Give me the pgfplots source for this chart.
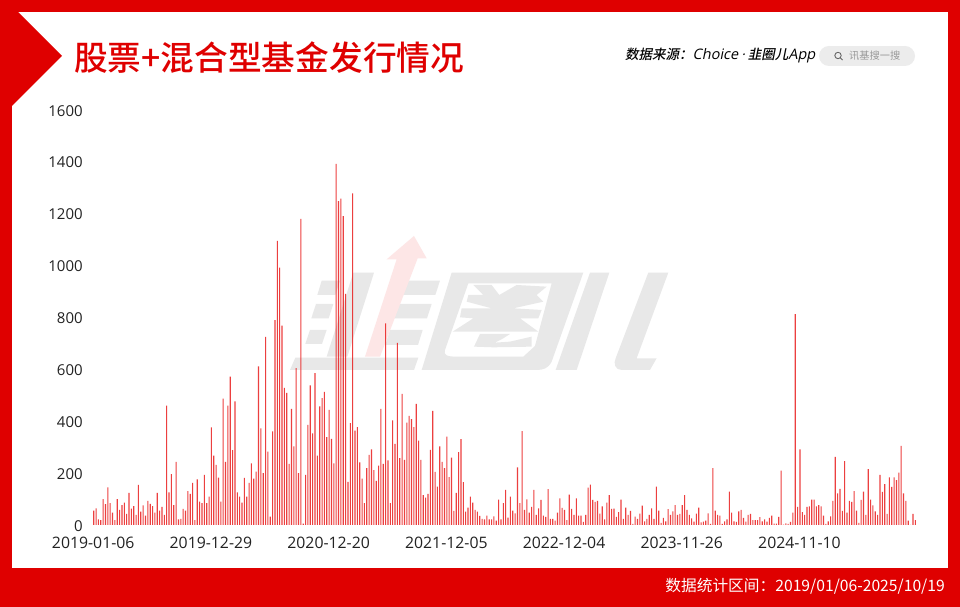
\documentclass[border=0pt]{standalone}
\usepackage{pgfplots}
\usepackage{pgfplotstable}
\usepackage{fontspec}
\pgfplotsset{compat=1.18}
\setmainfont{Open Sans}
\newfontfamily\cjk{Noto Sans CJK SC}
\newfontfamily\cjkmed{Noto Sans CJK SC Medium}
\newfontfamily\cjkit[FakeSlant=0.2]{Noto Sans CJK SC Medium}
\newfontfamily\latit[FakeSlant=0.2]{Open Sans}
\definecolor{frame}{HTML}{DF0000}
\definecolor{wm}{HTML}{E8E8E8}
\definecolor{wmp}{HTML}{FDE6E6}
\definecolor{barc}{HTML}{E81010}
\definecolor{tickc}{HTML}{222222}
\pgfplotstableread{
v
55 
64
22
19
100
80
145
84
48
19
100
58
77
86
43
124
63
73
39
155
52
76
36
93
81
73
48
124
55
70
39
460
126
196
77
243
22
24
62
55
131
120
162
19
176
90
84
193
84
109
376
267
232
183
90
487
243
460
572
289
477
126
109
86
182
109
162
238
179
206
612
373
200
725
283
32
361
790
1095
992
769
529
509
236
448
303
605
200
1180
5
193
386
538
353
586
267
457
489
513
339
444
332
238
1392
1249
1258
1191
891
166
393
1279
364
377
241
179
84
219
270
292
212
170
229
448
236
777
249
84
403
313
702
258
506
251
395
421
408
377
467
325
251
115
106
120
290
440
205
148
303
243
219
341
185
260
54
124
281
331
165
52
67
109
86
58
52
35
24
22
36
22
22
33
17
98
22
84
135
28
109
55
45
222
84
362
58
99
48
70
135
39
64
97
36
31
138
24
24
17
48
103
66
58
19
117
62
39
103
36
36
12
39
144
156
97
89
93
44
72
22
86
115
62
63
31
50
98
24
67
39
54
4
32
24
44
75
14
24
39
64
24
148
55
8
27
14
61
39
53
77
39
43
77
115
58
39
26
13
44
67
10
13
17
45
4
219
55
39
36
4
14
22
129
48
14
12
53
58
27
13
39
43
19
19
19
30
14
22
13
27
36
5
5
31
210
1
6
4
12
48
813
70
292
50
39
70
72
98
98
72
77
72
36
4
14
33
93
263
122
139
54
246
48
93
89
131
55
8
97
129
39
215
98
76
53
39
193
128
158
43
184
147
184
173
202
305
122
93
17
0
43
19
}\datatable
\begin{document}
\begin{tikzpicture}[x=1pt,y=1pt]
\path[use as bounding box] (0,0) rectangle (960,607);
\begin{scope}[shift={(0,607)},y=-1pt,x=1pt]
\fill[frame] (0,0) rectangle (960,607);
\fill[white] (12,12) rectangle (948,568);
\fill[frame] (12,12) -- (18,12) -- (62,56) -- (12,106) -- cycle;
% watermark logo (zoom coords /3 + offset)
\begin{scope}[shift={(290,230)},x=0.3333pt,y=-0.3333pt]
\fill[wm] (95,152) -- (150,152) -- (136,195) -- (82,195) -- cycle;
\fill[wm] (78,222) -- (130,222) -- (116,265) -- (64,265) -- cycle;
\fill[wm] (60,300) -- (110,300) -- (96,342) -- (46,342) -- cycle;
\fill[wm] (190,128) -- (252,128) -- (172,380) -- (110,380) -- cycle;
\fill[wm] (16,383) -- (385,383) -- (372,420) -- (0,420) -- cycle;
\fill[wm] (335,152) -- (450,152) -- (436,195) -- (322,195) -- cycle;
\fill[wm] (318,222) -- (425,222) -- (411,265) -- (305,265) -- cycle;
\fill[wm] (300,300) -- (398,300) -- (384,345) -- (286,345) -- cycle;
\fill[wmp] (225,380) -- (320,88) -- (290,88) -- (372,18) -- (410,85) -- (383,85) -- (270,380) -- cycle;
\fill[wm,even odd rule] (485,128) -- (880,128) -- (785,395) .. controls (775,415) and (760,420) .. (740,420) -- (395,420) -- cycle
 (535,160) -- (785,160) -- (735,348) -- (700,380) -- (500,380) .. controls (470,380) and (460,375) .. (465,360) -- cycle;
\fill[wm] (550,165) -- (605,165) -- (628,195) -- (680,165) -- (770,170) -- (740,195) -- (760,215) -- (670,235) -- (755,240) -- (745,265) -- (690,265) -- (745,305) -- (488,305) -- (550,265) -- (510,262) -- (515,235) -- (605,235) -- (530,215) -- (535,195) -- (580,195) -- cycle;
\fill[white] (555,310) -- (730,315) -- (722,350) -- (550,350) -- cycle;
\fill[wm] (570,312) -- (660,312) -- (640,325) -- (615,338) -- (660,335) -- (725,320) -- (725,350) -- (610,352) -- (552,350) -- cycle;
\fill[wm] (900,128) -- (958,128) -- (860,420) -- (797,420) -- cycle;
\fill[wm] (1075,128) -- (1135,128) -- (1040,385) -- (1100,385) -- (1080,420) -- (995,420) .. controls (975,420) and (970,400) .. (977,385) -- cycle;
\end{scope}
% title
\node[anchor=west,inner sep=0pt,text=frame] at (74,57.5) {\cjkmed\fontsize{33.7}{38}\selectfont 股票+混合型基金发行情况};
% source
\node[anchor=west,inner sep=0pt,text=black] at (625,55.5) {\cjkit\fontsize{13.5}{16}\selectfont 数据来源：{\latit\fontsize{14.5}{16}\selectfont Choice} {\latit ·} 韭圈儿{\latit\fontsize{14.5}{16}\selectfont App}};
% search pill
\fill[gray!15] (829,46) rectangle (905,66);
\fill[gray!15] (829,56) circle (10);
\fill[gray!15] (905,56) circle (10);
\draw[gray!80!black,line width=0.9pt] (838,55.5) circle (3.2);
\draw[gray!80!black,line width=0.9pt] (840.3,57.8) -- (842.5,60);
\node[anchor=west,inner sep=0pt,text=gray!80] at (849,56) {\cjk\fontsize{10.2}{12}\selectfont 讯基搜一搜};
% footer
\node[anchor=east,inner sep=0pt,text=white] at (945,586) {\cjk\fontsize{15.7}{18}\selectfont 数据统计区间：2019/01/06-2025/10/19};
\end{scope}
\begin{axis}[
  at={(93.7pt,82pt)}, anchor=south west,
  scale only axis, width=821.6pt, height=415pt,
  xmin=0, xmax=349, ymin=0, ymax=1600,
  clip=false,
  axis line style={draw=none},
  major tick length=0pt,
  xtick={0,50,100,150,200,250,300},
  xticklabels={2019-01-06,2019-12-29,2020-12-20,2021-12-05,2022-12-04,2023-11-26,2024-11-10},
  ytick={0,200,400,600,800,1000,1200,1400,1600},
  /pgf/number format/assume math mode=true,
  /pgf/number format/1000 sep={},
  tick label style={font=\fontsize{15.8}{18}\selectfont,text=tickc},
  x tick label style={yshift=-9pt,xshift=-0.5pt},
  y tick label style={xshift=-7.5pt,yshift=-0.7pt,font=\fontsize{15}{18}\selectfont},
  ybar, bar width=1.1pt, bar shift=0pt,
]
\addplot[draw=none,fill=barc,fill opacity=0.8] table[x expr=\coordindex,y=v] {\datatable};
\end{axis}
\end{tikzpicture}
\end{document}
